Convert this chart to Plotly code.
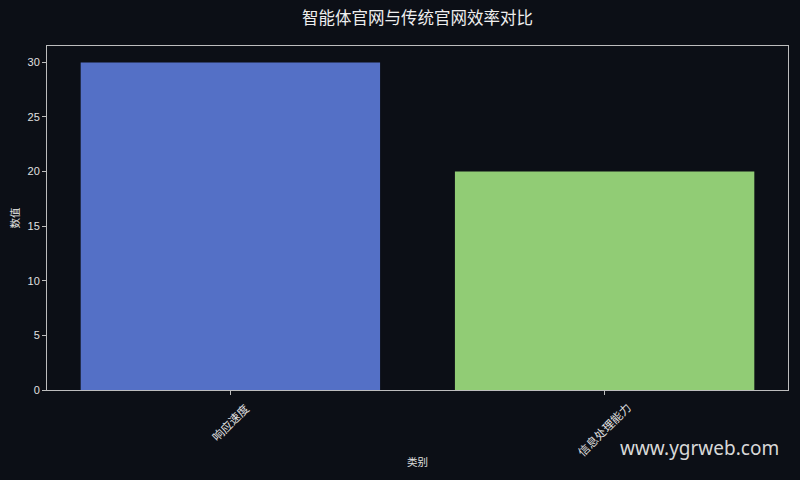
import plotly.graph_objects as go

categories = ['响应速度', '信息处理能力']
values = [30, 20]
bar_colors = ['#5470c6', '#91cc75']
y_ticks = [0, 5, 10, 15, 20, 25, 30]

bg = '#0c0f16'
fg = '#e0e0e0'
frame = '#bdbdbd'
font_family = 'Liberation Sans, Noto Sans CJK SC, sans-serif'

xpos = list(range(len(categories)))

fig = go.Figure()
fig.add_trace(go.Bar(
    x=xpos, y=values, width=0.8,
    marker=dict(color=bar_colors, line=dict(width=0)),
    showlegend=False,
))

# rotated category labels, centred under each tick like the original
for i, name in zip(xpos, categories):
    fig.add_annotation(
        x=i, xref='x', y=0, yref='paper', yshift=-8,
        text=name, textangle=-45, showarrow=False,
        xanchor='center', yanchor='top',
        font=dict(size=11.5, color=fg, family=font_family),
    )

fig.add_annotation(
    x=0.881, y=-0.168, xref='paper', yref='paper',
    text='www.ygrweb.com', showarrow=False,
    xanchor='center', yanchor='middle',
    font=dict(size=19, color='#d8d8d8', family='Noto Sans, Open Sans, sans-serif'),
)

fig.update_layout(
    width=800, height=480,
    margin=dict(l=47, r=12, t=46, b=90),
    paper_bgcolor=bg, plot_bgcolor=bg,
    font=dict(family=font_family, color=fg, size=11),
    title=dict(
        text='智能体官网与传统官网效率对比',
        x=0.5, xref='paper', y=1 - 18 / 480, yref='container',
        xanchor='center', yanchor='middle',
        font=dict(size=16.5, color='#eeeeee', family='Noto Sans CJK SC, sans-serif'),
    ),
    bargap=0.2,
)

fig.update_xaxes(
    range=[-0.49, 1.49], tickvals=xpos, showticklabels=False,
    ticks='outside', ticklen=4, tickcolor=frame,
    showline=True, linecolor=frame, linewidth=1, mirror=True,
    showgrid=False, zeroline=False,
    title=dict(text='类别', standoff=64, font=dict(size=10.5, color=fg)),
)
fig.update_yaxes(
    range=[0, 31.5], tickvals=y_ticks,
    ticks='outside', ticklen=4, tickcolor=frame,
    showline=True, linecolor=frame, linewidth=1, mirror=True,
    showgrid=False, zeroline=False,
    tickfont=dict(size=11, color=fg),
    title=dict(text='数值', standoff=5, font=dict(size=10.5, color=fg)),
)

# drop the browser's default page margin so the figure sits at 0,0
fig.write_html('out.html', config={'displayModeBar': False},
               post_script="document.body.style.margin='0';")
